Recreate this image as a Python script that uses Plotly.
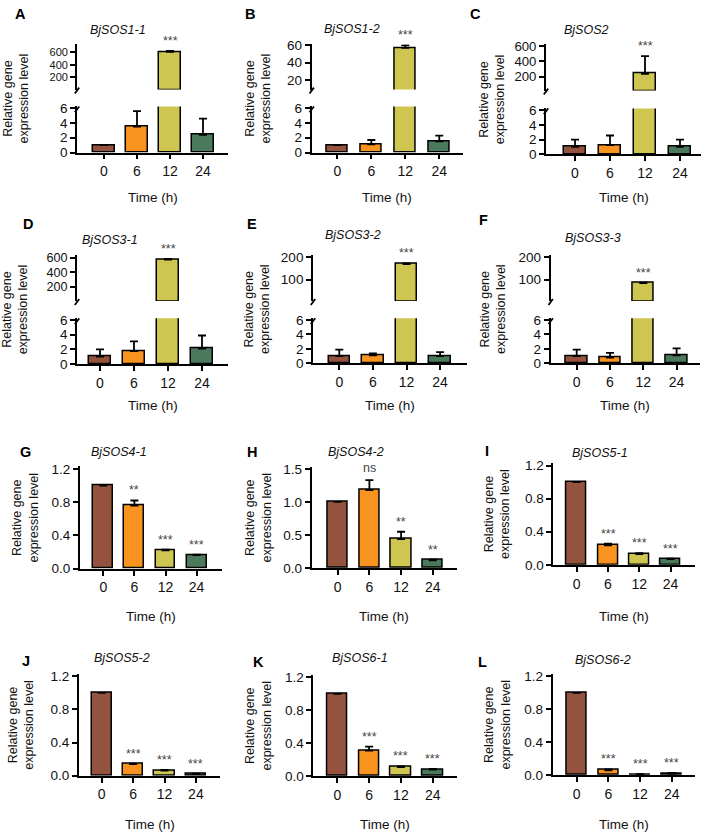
import plotly.graph_objects as go

# ---------------- data ----------------
times = ["0", "6", "12", "24"]
bar_colors = ["#93533F", "#F7931E", "#CFC551", "#4A7A5B"]

genes = ["BjSOS1-1", "BjSOS1-2", "BjSOS2", "BjSOS3-1", "BjSOS3-2", "BjSOS3-3",
         "BjSOS4-1", "BjSOS4-2", "BjSOS5-1", "BjSOS5-2", "BjSOS6-1", "BjSOS6-2"]
letters = ["A", "B", "C", "D", "E", "F", "G", "H", "I", "J", "K", "L"]

mean_A = [1.0, 3.5, 600, 2.4];    err_A = [0, 2.1, 15, 2.2]
mean_B = [1.0, 1.1, 57, 1.5];     err_B = [0, 0.6, 3, 0.8]
mean_C = [1.0, 1.25, 235, 1.0];   err_C = [1.0, 1.3, 232, 1.0]
mean_D = [1.0, 1.75, 575, 2.1];   err_D = [1.0, 1.35, 8, 1.8]
mean_E = [1.0, 1.1, 170, 1.0];    err_E = [0.9, 0.25, 3, 0.55]
mean_F = [1.0, 0.8, 85, 1.1];     err_F = [0.9, 0.65, 2, 0.95]
mean_G = [1.0, 0.76, 0.22, 0.165]; err_G = [0, 0.06, 0.01, 0.005]
mean_H = [1.0, 1.18, 0.44, 0.12];  err_H = [0, 0.15, 0.11, 0.01]
mean_I = [1.0, 0.235, 0.13, 0.07]; err_I = [0, 0.02, 0.01, 0.005]
mean_J = [1.0, 0.14, 0.06, 0.02];  err_J = [0, 0.005, 0.01, 0.005]
mean_K = [1.0, 0.31, 0.11, 0.08];  err_K = [0, 0.05, 0.01, 0.01]
mean_L = [1.0, 0.06, 0.01, 0.02];  err_L = [0, 0.01, 0.003, 0.01]

sig_break = ["", "", "***", ""]
sig_G = ["", "**", "***", "***"]
sig_H = ["", "ns", "**", "**"]
sig_down = ["", "***", "***", "***"]

means = [mean_A, mean_B, mean_C, mean_D, mean_E, mean_F,
         mean_G, mean_H, mean_I, mean_J, mean_K, mean_L]
errs = [err_A, err_B, err_C, err_D, err_E, err_F,
        err_G, err_H, err_I, err_J, err_K, err_L]
sigs = [sig_break] * 6 + [sig_G, sig_H, sig_down, sig_down, sig_down, sig_down]

upper_ticks = [[200, 400, 600], [20, 40, 60], [200, 400, 600],
               [200, 400, 600], [100, 200], [100, 200]]
lower_ticks = [0, 2, 4, 6]
plain_ticks = {6: [0, 0.4, 0.8, 1.2], 7: [0, 0.5, 1.0, 1.5], 8: [0, 0.4, 0.8, 1.2],
               9: [0, 0.4, 0.8, 1.2], 10: [0, 0.4, 0.8, 1.2], 11: [0, 0.4, 0.8, 1.2]}

# ---------------- layout (pixels) ----------------
W, H = 704, 840
# xL, xR, cat0 px, spacing px
xgeo = [(77, 228, 104, 33), (311.7, 463, 337.3, 34), (546, 701, 575, 35),
        (77, 228, 100, 34), (313, 467, 339.3, 33.6), (550.7, 700, 576.7, 33.3),
        (80, 221.7, 103.3, 31.1), (311.7, 456.7, 337.7, 31.7), (553.3, 695, 576.7, 31.3),
        (79, 220, 101.7, 31.4), (313.3, 456.7, 337.3, 31.8), (552.7, 695, 576.7, 31.7)]
# lower/plain axis: y0 px, px of top tick, top tick value, range max
ygeo = [(149, 104, 6, 6.25), (149, 104, 6, 6.25), (150.7, 106, 6, 6.25),
        (364, 319.5, 6, 6.25), (363.3, 319.3, 6, 6.25), (363.3, 319.3, 6, 6.25),
        (572.3, 470.7, 1.2, 1.23), (571.7, 470.7, 1.5, 1.53), (568.3, 467.3, 1.2, 1.23),
        (782.7, 681.7, 1.2, 1.23), (783.3, 682.7, 1.2, 1.23), (782.3, 681.7, 1.2, 1.23)]
# upper segments: top px, bottom px, v1, p1, v2, p2
ugeo = [(39, 85, 600, 46.7, 200, 72.7), (39, 85, 60, 40, 20, 75.3),
        (39, 86, 600, 40.7, 200, 71.7), (253, 300, 600, 256, 200, 285.7),
        (253, 300, 200, 255.7, 100, 278.3), (253, 300, 200, 255.7, 100, 278.3)]
letter_pos = [(20, 8), (250, 8), (475, 8), (28, 222), (252, 222), (483, 218),
              (25, 454), (252, 454), (487, 453), (26, 666), (258, 667), (482, 667)]
title_pos = [(118, 24), (352, 23), (586, 24), (110, 238), (353, 233), (593, 236),
             (119, 454), (356, 454), (600, 455), (122, 663), (360, 663), (603, 665)]
ytitle_x = [16, 258, 492, 15, 257, 493, 25, 258, 497, 21, 258, 497]
time_y = [195, 195, 195, 406, 406, 406, 621, 621, 621, 832, 832, 832]

FONT = "Arial, 'Liberation Sans', sans-serif"


def px(x):
    return x / W


def py(y):
    return 1 - y / H


fig = go.Figure()
layout = {}
annotations = []
shapes = []
counter = [0]


def new_axes():
    counter[0] += 1
    n = counter[0]
    return n, ("x" if n == 1 else f"x{n}"), ("y" if n == 1 else f"y{n}")


def axis_key(ref):
    return ref[0] + "axis" + ref[1:]


def add_bars(xa, ya, vals, err):
    fig.add_trace(go.Bar(
        x=list(range(len(times))), y=vals, width=0.64,
        marker=dict(color=bar_colors, line=dict(color="black", width=1.5)),
        error_y=dict(type="data", array=err, arrayminus=[0] * len(err), symmetric=False,
                     color="black", thickness=1.8, width=4),
        xaxis=xa, yaxis=ya, showlegend=False, hoverinfo="skip"))


def add_stars(xa, ya, vals, err, sig):
    for i, s in enumerate(sig):
        if s:
            annotations.append(dict(x=i, y=vals[i] + err[i], xref=xa, yref=ya, text=s,
                                    showarrow=False, yanchor="bottom", yshift=1 if s != "ns" else 3,
                                    font=dict(family=FONT, size=12.5, color="#444")))


def yax_style(size):
    return dict(showline=True, linecolor="black", linewidth=1.8, ticks="outside",
                ticklen=5, tickwidth=1.5, tickcolor="black", showgrid=False, zeroline=False,
                tickfont=dict(family=FONT, size=size, color="#111"))


for p in range(12):
    xL, xR, c0, s = xgeo[p]
    xrange = [(xL - c0) / s, (xR - c0) / s]
    xdom = [px(xL), px(xR)]
    y0, yt, tv, ymax = ygeo[p]
    ppu = (y0 - yt) / tv
    ytop = y0 - ymax * ppu

    # lower / main subplot
    n, xa, ya = new_axes()
    add_bars(xa, ya, means[p], errs[p])
    layout[axis_key(xa)] = dict(domain=xdom, range=xrange, anchor=ya, showline=True,
                                linecolor="black", linewidth=1.8, ticks="outside", ticklen=5,
                                tickwidth=1.5, tickcolor="black", tickvals=list(range(4)),
                                ticktext=times, showgrid=False, zeroline=False,
                                tickfont=dict(family=FONT, size=14, color="#111"))
    ydict = yax_style(13.5)
    ydict.update(domain=[py(y0), py(ytop)], range=[0, ymax], anchor=xa)
    if p < 6:
        ydict.update(tickvals=lower_ticks)
    else:
        ydict.update(tickvals=plain_ticks[p], tickformat=".1f")
    layout[axis_key(ya)] = ydict

    panel_top = ytop
    if p < 6:
        ut, ub, v1, p1, v2, p2 = ugeo[p]
        k = (v1 - v2) / (p2 - p1)
        urange = [v2 - (ub - p2) * k, v1 + (p1 - ut) * k]
        tick_gap = (p2 - p1) / ((v1 - v2) / (upper_ticks[p][1] - upper_ticks[p][0]))
        n2, xa2, ya2 = new_axes()
        upper_vals = [v if v > urange[0] else None for v in means[p]]
        add_bars(xa2, ya2, upper_vals, errs[p])
        layout[axis_key(xa2)] = dict(domain=xdom, range=xrange, anchor=ya2, visible=False)
        ud = yax_style(min(13.5, round(tick_gap * 0.85, 1)))
        ud.update(domain=[py(ub), py(ut)], range=urange, anchor=xa2, tickvals=upper_ticks[p])
        layout[axis_key(ya2)] = ud
        add_stars(xa2, ya2, means[p], errs[p], sigs[p])
        panel_top = ut
        # break slashes
        for (ya_px, dy_down, dy_up) in [(ub, 4, 2), (ytop, 6, 0)]:
            shapes.append(dict(type="line", xref="paper", yref="paper",
                               x0=px(xL - 2.2), y0=py(ya_px + dy_down),
                               x1=px(xL + 2.2), y1=py(ya_px - dy_up),
                               line=dict(color="black", width=1.8)))
    else:
        add_stars(xa, ya, means[p], errs[p], sigs[p])

    # texts
    lx, ly = letter_pos[p]
    annotations.append(dict(x=px(lx), y=py(ly), xref="paper", yref="paper", text=f"<b>{letters[p]}</b>",
                            showarrow=False, xanchor="center", yanchor="middle",
                            font=dict(family=FONT, size=14.5, color="black")))
    tx, ty = title_pos[p]
    annotations.append(dict(x=px(tx), y=py(ty), xref="paper", yref="paper", text=f"<i>{genes[p]}</i>",
                            showarrow=False, xanchor="center", yanchor="middle",
                            font=dict(family=FONT, size=12.5, color="#111")))
    annotations.append(dict(x=px(ytitle_x[p]), y=py((panel_top + y0) / 2), xref="paper", yref="paper",
                            text="Relative gene<br>expression level", textangle=-90,
                            showarrow=False, xanchor="center", yanchor="middle",
                            font=dict(family=FONT, size=12.5, color="#111")))
    annotations.append(dict(x=px((xL + xR) / 2), y=py(time_y[p]), xref="paper", yref="paper",
                            text="Time (h)", showarrow=False, xanchor="center", yanchor="middle",
                            font=dict(family=FONT, size=13.5, color="#111")))

fig.update_layout(width=W, height=H, margin=dict(l=0, r=0, t=0, b=0), autosize=False,
                  paper_bgcolor="white", plot_bgcolor="white", bargap=0,
                  annotations=annotations, shapes=shapes, **layout)

fig.write_html("out.html", config={"displayModeBar": False},
               post_script="document.body.style.margin='0';document.body.style.overflow='hidden';")
